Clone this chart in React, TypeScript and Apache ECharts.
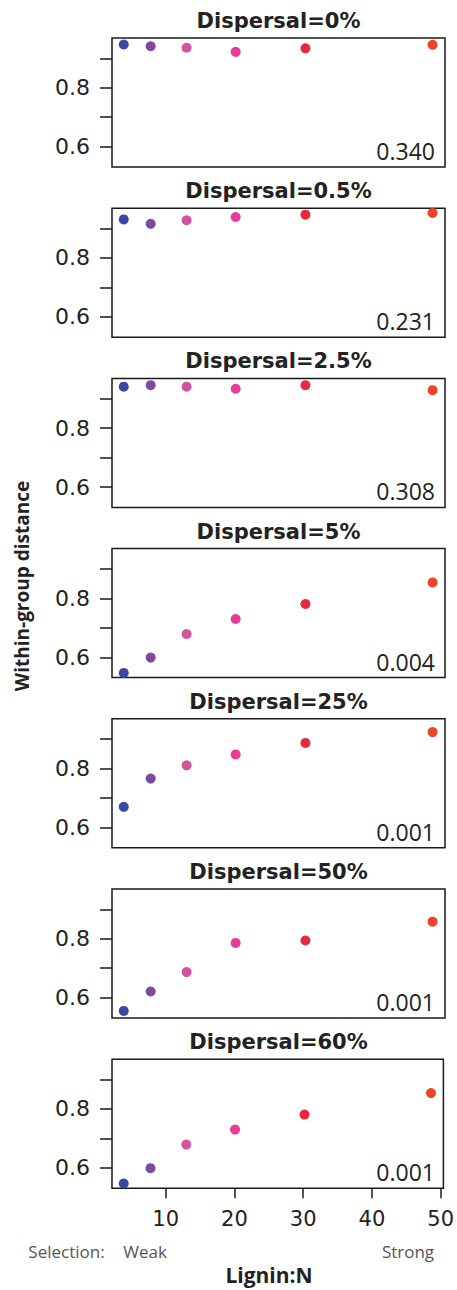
import React, { useEffect, useRef } from "react";
import * as echarts from "echarts";

// ---- data ----
const ligninN = [3.9, 7.8, 13.0, 20.1, 30.2, 48.6];
const pointColors = ["#3a48a5", "#7d4aa3", "#d0559e", "#e83a96", "#e8283e", "#ee4426"];
const panelTitles = [
  "Dispersal=0%",
  "Dispersal=0.5%",
  "Dispersal=2.5%",
  "Dispersal=5%",
  "Dispersal=25%",
  "Dispersal=50%",
  "Dispersal=60%",
];
const disp0 = [0.947, 0.941, 0.936, 0.922, 0.934, 0.946];
const disp0_5 = [0.931, 0.916, 0.928, 0.939, 0.947, 0.953];
const disp2_5 = [0.941, 0.946, 0.941, 0.934, 0.946, 0.929];
const disp5 = [0.547, 0.599, 0.679, 0.73, 0.781, 0.854];
const disp25 = [0.67, 0.766, 0.811, 0.848, 0.887, 0.924];
const disp50 = [0.555, 0.621, 0.687, 0.786, 0.794, 0.858];
const disp60 = [0.547, 0.599, 0.679, 0.73, 0.781, 0.854];
const panelValues = [disp0, disp0_5, disp2_5, disp5, disp25, disp50, disp60];
const pValues = ["0.340", "0.231", "0.308", "0.004", "0.001", "0.001", "0.001"];
const yTicks = [0.6, 0.7, 0.8, 0.9];
const yLabels = [0.6, 0.8];
const xTicks = [10, 20, 30, 40, 50];

// ---- layout ----
const GRID_LEFT = 112;
const GRID_WIDTH = 333;
const GRID_HEIGHT = 129;
const FIRST_TOP = 38;
const STEP = 170.2;
const Y_MIN = 0.531;
const Y_MAX = 0.969;
const X_MIN = 2.2;
const X_MAX = 50.4;

export default function App() {
  const ref = useRef<HTMLDivElement>(null);

  useEffect(() => {
    if (!ref.current) return;
    const chart = echarts.init(ref.current, null, { renderer: "svg" });
    const n = panelTitles.length;
    const tops = panelTitles.map((_, i) => FIRST_TOP + i * STEP);

    const grid = tops.map((t) => ({
      left: GRID_LEFT,
      top: t,
      width: GRID_WIDTH,
      height: GRID_HEIGHT,
      show: true,
      borderColor: "#1a1a1a",
      borderWidth: 1.5,
      backgroundColor: "transparent",
    }));

    const xAxis = tops.map((_, i) => {
      const last = i === n - 1;
      return {
        type: "value",
        gridIndex: i,
        min: X_MIN,
        max: X_MAX,
        splitLine: { show: false },
        axisLine: { show: false },
        axisTick: {
          show: last,
          customValues: xTicks,
          length: 10,
          lineStyle: { color: "#1a1a1a", width: 1.5 },
        },
        axisLabel: {
          show: last,
          customValues: xTicks,
          margin: 20,
          fontFamily: "DejaVu Sans",
          fontSize: 21,
          color: "#222",
        },
      };
    });

    const yAxis = tops.map((_, i) => ({
      type: "value",
      gridIndex: i,
      min: Y_MIN,
      max: Y_MAX,
      splitLine: { show: false },
      axisLine: { show: false },
      axisTick: {
        show: true,
        customValues: yTicks,
        length: 12,
        lineStyle: { color: "#1a1a1a", width: 1.5 },
      },
      axisLabel: {
        show: true,
        customValues: yLabels,
        margin: 22,
        fontFamily: "DejaVu Sans",
        fontSize: 22,
        color: "#222",
        formatter: (v: number) => v.toFixed(1),
      },
    }));

    const series = panelValues.map((vals, i) => ({
      type: "scatter",
      xAxisIndex: i,
      yAxisIndex: i,
      symbolSize: 10,
      data: vals.map((v, j) => ({
        value: [ligninN[j], v],
        itemStyle: { color: pointColors[j], opacity: 1 },
      })),
    }));

    const graphic: any[] = [];
    tops.forEach((t, i) => {
      graphic.push({
        type: "text",
        x: GRID_LEFT + GRID_WIDTH / 2,
        y: t - 17,
        style: {
          text: panelTitles[i],
          fontFamily: "DejaVu Sans",
          fontWeight: "bold",
          fontSize: 21,
          fill: "#222",
          align: "center",
          verticalAlign: "middle",
        },
      });
      graphic.push({
        type: "text",
        x: GRID_LEFT + GRID_WIDTH - 10,
        y: t + 113,
        style: {
          text: pValues[i],
          fontFamily: "Open Sans",
          fontSize: 23,
          fill: "#222",
          align: "right",
          verticalAlign: "middle",
        },
      });
    });
    graphic.push({
      type: "text",
      x: 22,
      y: 586,
      rotation: Math.PI / 2,
      style: {
        text: "Within-group distance",
        fontFamily: "Open Sans",
        fontWeight: "bold",
        fontSize: 19,
        fill: "#222",
        align: "center",
        verticalAlign: "middle",
      },
    });
    const lastBottom = tops[n - 1] + GRID_HEIGHT;
    graphic.push({
      type: "text",
      x: 269,
      y: lastBottom + 87,
      style: {
        text: "Lignin:N",
        fontFamily: "Open Sans",
        fontWeight: "bold",
        fontSize: 21,
        fill: "#222",
        align: "center",
        verticalAlign: "middle",
      },
    });
    [
      { t: "Selection:", x: 66.5 },
      { t: "Weak", x: 145 },
      { t: "Strong", x: 408 },
    ].forEach((s) =>
      graphic.push({
        type: "text",
        x: s.x,
        y: lastBottom + 63,
        style: {
          text: s.t,
          fontFamily: "Open Sans",
          fontSize: 17,
          fill: "#555",
          align: "center",
          verticalAlign: "middle",
        },
      })
    );

    chart.setOption({
      animation: false,
      backgroundColor: "#fff",
      grid,
      xAxis,
      yAxis,
      series,
      graphic,
    });
    return () => chart.dispose();
  }, []);

  return (
    <div
      ref={ref}
      style={{ position: "absolute", left: 0, top: 0, width: 457, height: 1290 }}
    />
  );
}
